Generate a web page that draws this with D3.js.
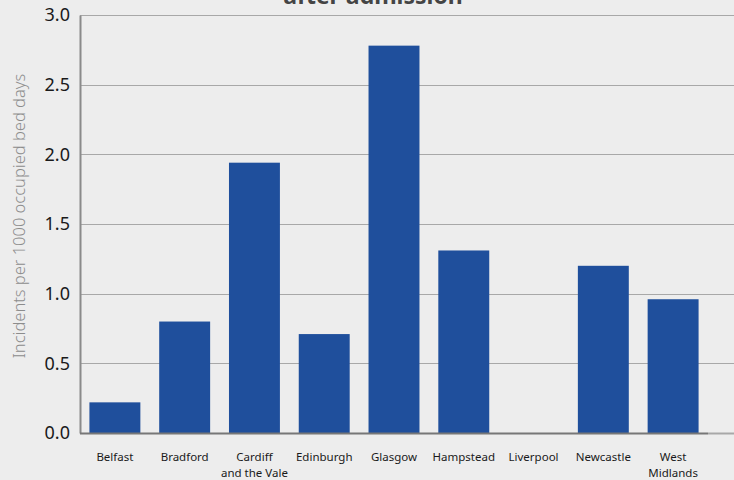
<!DOCTYPE html>
<html>
<head>
<meta charset="utf-8">
<script src="https://cdn.jsdelivr.net/npm/d3@7"></script>
<style>
  html, body { margin: 0; padding: 0; background: #ededed; }
  svg { display: block; }
</style>
</head>
<body>
<div id="chart"></div>
<script>
// Incident rates by site
const sites = ["Belfast", "Bradford", "Cardiff\nand the Vale", "Edinburgh", "Glasgow",
               "Hampstead", "Liverpool", "Newcastle", "West\nMidlands"];
const rates = [0.22, 0.80, 1.94, 0.71, 2.78, 1.31, 0.0, 1.20, 0.96];
const yTicks = [0, 0.5, 1.0, 1.5, 2.0, 2.5, 3.0];
const titleText = "after admission";
const yLabel = "Incidents per 1000 occupied bed days";

const W = 734, H = 480;
const margin = { left: 80, right: 26, top: 15, bottom: 47 };
const plotRight = W - margin.right;
const plotBottom = H - margin.bottom;

const svg = d3.select("#chart").append("svg")
  .attr("width", W).attr("height", H);

svg.append("rect").attr("width", W).attr("height", H).attr("fill", "#ededed");

const x = d3.scaleBand()
  .domain(sites)
  .range([margin.left, plotRight])
  .paddingInner(0.27)
  .paddingOuter(0.135);

const y = d3.scaleLinear()
  .domain([0, 3])
  .range([plotBottom, margin.top]);

// Horizontal gridlines run across to the page edge
svg.append("g")
  .selectAll("line")
  .data(yTicks.filter(t => t > 0))
  .join("line")
  .attr("x1", margin.left).attr("x2", W)
  .attr("y1", d => Math.round(y(d)) + 0.5).attr("y2", d => Math.round(y(d)) + 0.5)
  .attr("stroke", "#a8a8a8").attr("stroke-width", 1);

// baseline extension past the axis
svg.append("line")
  .attr("x1", plotRight).attr("x2", W)
  .attr("y1", Math.round(y(0)) + 0.5).attr("y2", Math.round(y(0)) + 0.5)
  .attr("stroke", "#a8a8a8").attr("stroke-width", 2);

// Bars
svg.append("g")
  .selectAll("rect")
  .data(sites.map((s, i) => ({ s, v: rates[i] })))
  .join("rect")
  .attr("x", d => x(d.s))
  .attr("width", x.bandwidth())
  .attr("y", d => y(d.v))
  .attr("height", d => y(0) - y(d.v))
  .attr("fill", "#1f4f9c");

// Y axis
const yAxis = svg.append("g")
  .attr("transform", `translate(${margin.left},0)`)
  .call(d3.axisLeft(y).tickValues(yTicks).tickFormat(d3.format(".1f")).tickSize(0).tickPadding(10));
yAxis.select(".domain").attr("stroke", "#8a8a8a").attr("stroke-width", 2);
yAxis.selectAll("text")
  .attr("font-family", "'Noto Sans', sans-serif")
  .attr("font-size", 18)
  .attr("fill", "#1a1a1a");

// X axis
const xAxis = svg.append("g")
  .attr("transform", `translate(0,${y(0)})`)
  .call(d3.axisBottom(x).tickSize(0).tickPadding(0));
xAxis.select(".domain")
  .attr("d", `M${margin.left},0.5H${plotRight}`)
  .attr("stroke", "#777").attr("stroke-width", 2);
xAxis.selectAll("text").remove();
xAxis.selectAll(".tick").each(function(d) {
  const t = d3.select(this).append("text")
    .attr("text-anchor", "middle")
    .attr("font-family", "'Noto Sans', sans-serif")
    .attr("font-size", 11.5)
    .attr("fill", "#1a1a1a");
  d.split("\n").forEach((line, i) => {
    t.append("tspan").attr("x", 0).attr("y", 28 + i * 16).text(line);
  });
});

// Y axis title
svg.append("text")
  .attr("transform", `translate(25,216) rotate(-90)`)
  .attr("text-anchor", "middle")
  .attr("font-family", "'Noto Sans', sans-serif")
  .attr("font-size", 16.5)
  .attr("font-weight", 300)
  .attr("fill", "#8c8c8c")
  .text(yLabel);

// Chart title (upper line runs off the top)
svg.append("text")
  .attr("x", 373).attr("y", 4)
  .attr("text-anchor", "middle")
  .attr("font-family", "'Noto Sans', sans-serif")
  .attr("font-size", 23)
  .attr("font-weight", 700)
  .attr("fill", "#444")
  .text(titleText);
</script>
</body>
</html>
